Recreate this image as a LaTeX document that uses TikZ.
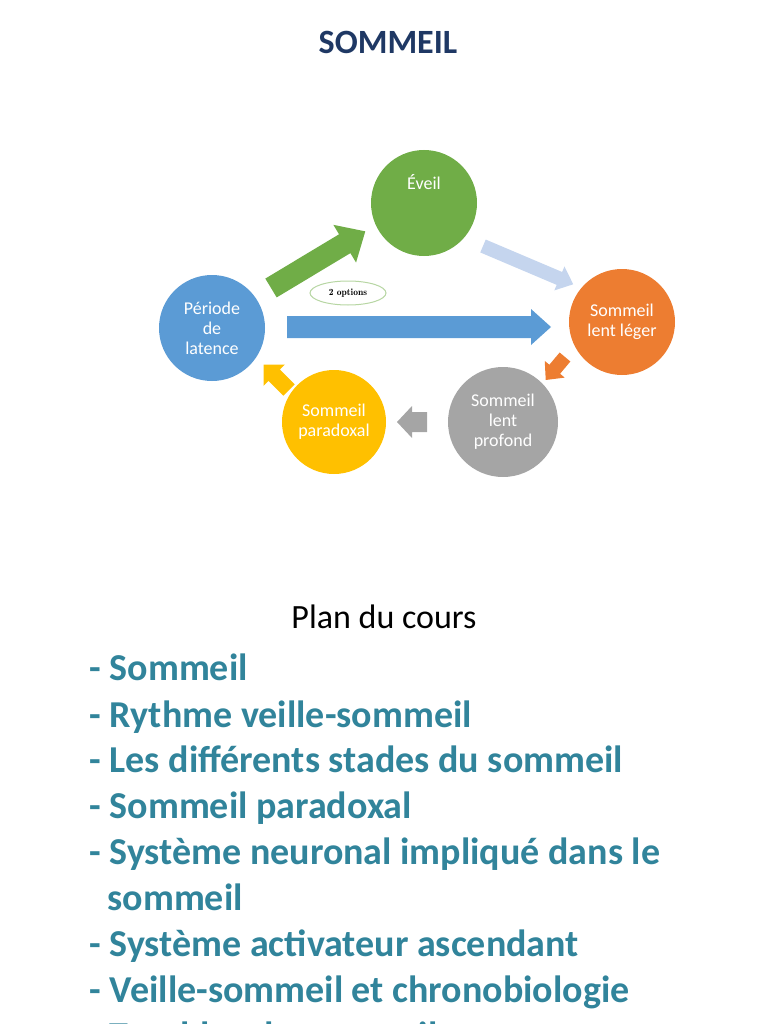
\documentclass[tikz,border=0pt]{standalone}
\usepackage{fontspec}
\setmainfont{Carlito}
\usetikzlibrary{shapes.geometric}
\definecolor{ttl}{HTML}{1F3864}
\definecolor{teal}{HTML}{31849B}
\definecolor{cg}{HTML}{70AD47}
\definecolor{cb}{HTML}{5B9BD5}
\definecolor{co}{HTML}{ED7D31}
\definecolor{cy}{HTML}{FFC000}
\definecolor{cgr}{HTML}{A5A5A5}
\definecolor{lb}{HTML}{C5D5EE}
% #1 colour, #2 tail coordinate, #3 angle, #4 length, #5 shaft half, #6 head half, #7 head length
\newcommand\blockarr[7]{%
  \begin{scope}[shift={(#2)},rotate=#3]
  \fill[#1] (0pt,#5pt) -- (#4pt-#7pt,#5pt) -- (#4pt-#7pt,#6pt) -- (#4pt,0pt)
    -- (#4pt-#7pt,-#6pt) -- (#4pt-#7pt,-#5pt) -- (0pt,-#5pt) -- cycle;
  \end{scope}}
\begin{document}
\begin{tikzpicture}[x=1pt,y=-1pt,
  circ/.style={circle,minimum size=106pt,inner sep=0pt,text=white,align=center,font=\fontsize{18}{20}\selectfont},
  item/.style={anchor=base west,text=teal,font=\fontsize{38}{40}\selectfont\bfseries}]
\useasboundingbox (0,0) rectangle (768,1024);
\node[text=ttl,font=\fontsize{34}{38}\selectfont\bfseries] (t) at (388,42) {SOMMEIL};
\node[circ,fill=cg] (ev) at (424,203) {Éveil\\[22pt]};
\node[circ,fill=cb] (pl) at (212,328) {Période\\de\\latence};
\node[circ,fill=co] (sl) at (622,322) {Sommeil\\lent léger};
\node[circ,fill=cgr,minimum size=110pt] (sp) at (503,422) {Sommeil\\lent\\profond};
\node[circ,fill=cy,minimum size=104pt] (pa) at (334,422) {Sommeil\\paradoxal};
\coordinate (t1) at (271,288);
\coordinate (t2) at (483,246);
\coordinate (t3) at (287,327);
\coordinate (t4) at (565,357);
\coordinate (t5) at (427,422);
\coordinate (t6) at (289,390);
\blockarr{cg}{t1}{31}{110}{11}{22}{24}
\blockarr{lb}{t2}{-23}{98}{7}{13}{15}
\blockarr{cb}{t3}{0}{264}{11}{18}{20}
\blockarr{co}{t4}{-130}{30}{7}{13}{14}
\blockarr{cgr}{t5}{180}{30}{10}{16}{15}
\blockarr{cy}{t6}{135}{36}{8}{15}{15}
\node[ellipse,draw=cg!50,line width=1pt,minimum width=76pt,minimum height=24pt,fill=white,font=\fontfamily{lmr}\fontsize{9.5}{10}\selectfont\bfseries] (op) at (348,293) {2 options};
\node[font=\fontsize{34}{38}\selectfont] (plan) at (384,617) {Plan du cours};
\node[item] (i1) at (86,680) {- Sommeil};
\node[item] (i2) at (86,727) {- Rythme veille-sommeil};
\node[item] (i3) at (86,772) {- Les différents stades du sommeil};
\node[item] (i4) at (86,818) {- Sommeil paradoxal};
\node[item] (i5) at (86,864) {- Système neuronal impliqué dans le};
\node[item] (i6) at (104,910) {sommeil};
\node[item] (i7) at (86,956) {- Système activateur ascendant};
\node[item] (i8) at (86,1002) {- Veille-sommeil et chronobiologie};
\node[item] (i9) at (86,1048) {- Troubles du sommeil};
\end{tikzpicture}
\end{document}
